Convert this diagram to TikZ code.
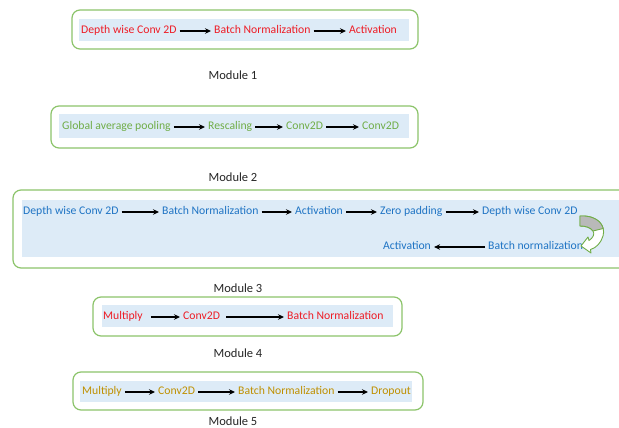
\documentclass[tikz,border=0pt]{standalone}
\usepackage{fontspec}
\setmainfont{Carlito}
\usepackage{tikz}
\usetikzlibrary{arrows.meta,positioning}
\definecolor{modred}{HTML}{EE1C25}
\definecolor{modgreen}{HTML}{70AD47}
\definecolor{modblue}{HTML}{1F74C4}
\definecolor{modgold}{HTML}{BF9000}
\definecolor{boxgreen}{HTML}{8CC46A}
\definecolor{bandblue}{HTML}{DDEBF7}
\definecolor{capgray}{HTML}{262626}
\tikzstyle{modbox} = [draw=boxgreen, line width=1.2pt, rounded corners=8pt, fill=white]
\tikzstyle{band} = [fill=bandblue]
\tikzstyle{arrow} = [-{Stealth[length=6pt,width=5.5pt]}, line width=1.1pt, black,
    shorten <=3pt, shorten >=3pt]
\tikzstyle{caption} = [text=capgray, font=\fontsize{12.5}{15}\selectfont]
\tikzset{layer/.style={anchor=west, inner sep=0pt, text height=8pt, text depth=2.5pt,
    font=\fontsize{11.7}{14}\selectfont, text=#1}}

\begin{document}
\begin{tikzpicture}[x=1pt, y=-1pt]
\useasboundingbox (0,0) rectangle (619,428);
\clip (0,0) rectangle (619,428);
\fill[white] (0,0) rectangle (619,428);

% module boxes and shaded bands
\draw[modbox] (72,10) rectangle (418,49);
\fill[band] (79,19) rectangle (409,41);
\draw[modbox] (51,106) rectangle (418,148);
\fill[band] (59,114) rectangle (409,138);
\draw[modbox] (13,190) rectangle (660,268);
\fill[band] (22,200) rectangle (640,257);
\draw[modbox] (93,297) rectangle (402,336);
\fill[band] (102,305) rectangle (393,327);
\draw[modbox] (73,372) rectangle (423,410);
\fill[band] (80,381) rectangle (412,402);

% Module 1
\node[layer=modred] (dw1) at (81,31) {Depth wise Conv 2D};
\node[layer=modred] (bn1) at (214,31) {Batch Normalization};
\node[layer=modred] (act1) at (349,31) {Activation};
\draw[arrow] (dw1) -- (bn1);
\draw[arrow] (bn1) -- (act1);
\node[caption] (cap1) at (233,75) {Module 1};

% Module 2
\node[layer=modgreen] (gap2) at (62,127) {Global average pooling};
\node[layer=modgreen] (res2) at (208,127) {Rescaling};
\node[layer=modgreen] (cva2) at (286,127) {Conv2D};
\node[layer=modgreen] (cvb2) at (362,127) {Conv2D};
\draw[arrow] (gap2) -- (res2);
\draw[arrow] (res2) -- (cva2);
\draw[arrow] (cva2) -- (cvb2);
\node[caption] (cap2) at (233,177) {Module 2};

% Module 3
\node[layer=modblue] (dwa3) at (23,212) {Depth wise Conv 2D};
\node[layer=modblue] (bna3) at (162,212) {Batch Normalization};
\node[layer=modblue] (acta3) at (295,212) {Activation};
\node[layer=modblue] (zp3) at (380,212) {Zero padding};
\node[layer=modblue] (dwb3) at (482,212) {Depth wise Conv 2D};
\node[layer=modblue] (bnb3) at (488,247) {Batch normalization};
\node[layer=modblue] (actb3) at (383,247) {Activation};
\draw[arrow] (dwa3) -- (bna3);
\draw[arrow] (bna3) -- (acta3);
\draw[arrow] (acta3) -- (zp3);
\draw[arrow] (zp3) -- (dwb3);
\draw[arrow] (bnb3) -- (actb3);
% curved block arrow, right of dwb3
\filldraw[fill=white, draw=modgreen, line width=0.9pt, line join=round]
  (580,216) .. controls (598,215) and (606,226) .. (603,236)
  .. controls (601,243) and (596,248) .. (590.5,249.5) -- (591,253) -- (581,246)
  -- (588,237) -- (589,240.5) .. controls (593,238) and (595,234) .. (593,231)
  .. controls (590,227) and (585,226) .. (580,226) -- cycle;
\filldraw[fill=gray!55, draw=modgreen, line width=0.9pt, line join=round]
  (580,216) .. controls (593.5,215.25) and (601.4,221.25) .. (603.2,228.5) -- (593,231)
  .. controls (590,227) and (585,226) .. (580,226) -- cycle;
\node[caption] (cap3) at (238,288) {Module 3};

% Module 4
\node[layer=modred] (mul4) at (103,317) {Multiply};
\node[layer=modred] (cv4) at (183,317) {Conv2D};
\node[layer=modred] (bn4) at (287,317) {Batch Normalization};
\draw[arrow, shorten <=8pt] (mul4) -- (cv4);
\draw[arrow, shorten <=6pt] (cv4) -- (bn4);
\node[caption] (cap4) at (238,353) {Module 4};

% Module 5
\node[layer=modgold] (mul5) at (82,392) {Multiply};
\node[layer=modgold] (cv5) at (158,392) {Conv2D};
\node[layer=modgold] (bn5) at (238,392) {Batch Normalization};
\node[layer=modgold] (drop5) at (371,392) {Dropout};
\draw[arrow] (mul5) -- (cv5);
\draw[arrow] (cv5) -- (bn5);
\draw[arrow] (bn5) -- (drop5);
\node[caption] (cap5) at (233,421) {Module 5};
\end{tikzpicture}
\end{document}
